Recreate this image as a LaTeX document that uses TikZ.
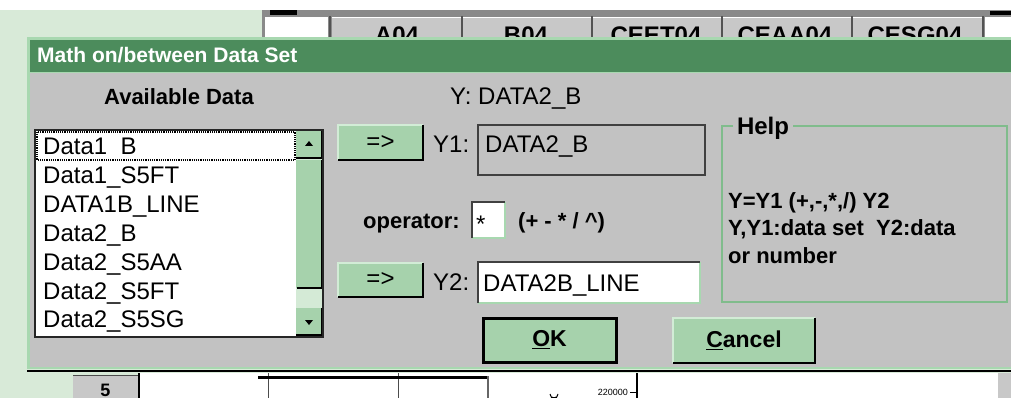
\documentclass[tikz,border=0pt]{standalone}
\usepackage{fontspec}
\setmainfont{Liberation Sans}
\definecolor{titlegreen}{HTML}{4C8C5C}
\definecolor{btngreen}{HTML}{A6D2AC}
\definecolor{btnlight}{HTML}{D2ECD6}
\definecolor{panel}{HTML}{C2C2C2}
\definecolor{pale}{HTML}{D8EAD8}
\definecolor{frame}{HTML}{A8D8B0}
\definecolor{groupline}{HTML}{80BC8C}
\definecolor{hdrgray}{HTML}{C8C8C8}
\definecolor{hdrdark}{HTML}{8A8A8A}
\definecolor{trackgreen}{HTML}{D4EAD6}
\definecolor{boxedge}{HTML}{404040}
\begin{document}
\begin{tikzpicture}[x=1pt,y=-1pt,
  lbl/.style={inner sep=0pt, anchor=base west, font=\fontsize{24}{24}\selectfont},
  blbl/.style={inner sep=0pt, anchor=base west, font=\fontsize{22}{22}\selectfont\bfseries},
  hdr/.style={inner sep=0pt, anchor=base, font=\fontsize{24}{24}\selectfont\bfseries},
  button/.style={fill=btngreen, inner sep=0pt, font=\fontsize{24}{24}\selectfont},
  shade/.style={black, line width=2pt},
  glint/.style={btnlight, line width=1.5pt},
  sunken/.style={boxedge, line width=2pt},
  raised/.style={frame, line width=2pt}]
\useasboundingbox (0,0) rectangle (1011,398);

% ---- surroundings: page, spreadsheet header row ----
\fill[white] (0,0) rectangle (1011,398);
\fill[pale] (0,10) rectangle (1011,398);
\fill[hdrdark] (262,10) rectangle (1011,37);
\fill[black] (270,10) rectangle (297,15);
\fill[black] (990,11) rectangle (1011,15);
\fill[hdrgray] (332,17) rectangle (982,37);
\draw[white, line width=1.5pt] (332,17.5) -- (982,17.5);
\fill[white] (265,17) rectangle (328,37);
\fill[white] (985,17) rectangle (1011,37);
\foreach \cx in {330,462,592,722,852,983}
  \draw[hdrdark!60!black, line width=2pt] (\cx,16) -- (\cx,37);
\node[hdr] (colA) at (397,44) {A04};
\node[hdr] (colB) at (526,44) {B04};
\node[hdr] (colC) at (656,44) {CEET04};
\node[hdr] (colD) at (785,44) {CEAA04};
\node[hdr] (colE) at (915,44) {CESG04};

% ---- spreadsheet rows below the dialog ----
\fill[white] (138,373) rectangle (998,398);
\fill[hdrgray] (998,373) rectangle (1011,398);
\fill[hdrgray] (73,375) rectangle (138,398);
\draw[black!70, line width=1pt] (73,375) -- (138,375);
\node[inner sep=0pt, anchor=base, font=\fontsize{18}{18}\selectfont\bfseries] (row5) at (105.5,396) {5};
\draw[black, line width=2pt] (139,373) -- (139,398);
\draw[black!70, line width=1pt] (268,373) -- (268,398);
\draw[black!70, line width=1pt] (398,373) -- (398,398);
\draw[black, line width=3pt] (258,377) -- (488,377);
\draw[black!60, line width=2pt] (488,376) -- (488,398);
\draw[black, line width=1.5pt] (637,373) -- (637,398);
\draw[black, line width=1pt] (630,392) -- (637,392);
\node[inner sep=0pt, anchor=east, font=\fontsize{9}{9}\selectfont] (ticklab) at (628,392) {220000};
\draw[black, line width=1pt] (550,394) arc[start angle=180, end angle=0, radius=4];
\draw[black, line width=1pt] (551,397) -- (557,397);

% ---- dialog window ----
\fill[frame] (27,37) rectangle (1011,369);
\fill[titlegreen] (30,40) rectangle (1011,72);
\fill[panel] (30,73) rectangle (1011,367);
\draw[black, line width=2pt] (27,371) -- (1011,371);
\node[inner sep=0pt, anchor=base west, text=white,
      font=\fontsize{21}{21}\selectfont\bfseries] (title) at (37,63) {Math on/between Data Set};

% ---- list of data sets ----
\node[inner sep=0pt, anchor=base, font=\fontsize{22}{22}\selectfont\bfseries] (avail) at (179,105) {Available Data};
\fill[white] (36,131) rectangle (296,336);
\foreach \t [count=\i from 0] in {Data1\_B, Data1\_S5FT, DATA1B\_LINE, Data2\_B, Data2\_S5AA, Data2\_S5FT, Data2\_S5SG}
  \node[lbl] (item\i) at (43,155+28.8*\i) {\t};
\draw[white, line width=3pt] (37,159) -- (295,159);
\draw[black, line width=1.2pt, densely dotted] (37,132) rectangle (295,160);
% scroll bar
\fill[trackgreen] (296,131) rectangle (322,335);
\fill[btngreen] (296,131) rectangle (322,158);
\fill[btngreen] (296,160) rectangle (322,288);
\fill[btngreen] (296,308) rectangle (322,335);
\draw[shade] (296,158) -- (322,158) -- (322,131);
\draw[shade] (297,288) -- (322,288) -- (322,160);
\draw[shade] (296,335) -- (322,335) -- (322,308);
\fill[black] (305,146) -- (313,146) -- (309,141) -- cycle;
\fill[black] (305,320) -- (313,320) -- (309,325) -- cycle;
\draw[black!85, line width=2.5pt] (35,130) rectangle (323,337);

% ---- result name ----
\node[lbl] (ylab) at (450,105) {Y: DATA2\_B};

% ---- first operand ----
\node[button, minimum width=85pt, minimum height=35pt] (pick1) at (380.5,142.5) {=>};
\draw[glint] (pick1.south west) -- (pick1.north west) -- (pick1.north east);
\draw[shade] (pick1.south west) -- (pick1.south east) -- (pick1.north east);
\node[lbl] (y1lab) at (433,153) {Y1:};
\node[draw=boxedge, line width=1.5pt, fill=panel, minimum width=227pt, minimum height=50pt] (y1box) at (591.5,150) {};
\node[lbl] (y1val) at (485,153) {DATA2\_B};

% ---- operator ----
\node[blbl] (oplab) at (363,228) {operator:};
\node[fill=white, minimum width=33pt, minimum height=36pt, inner sep=0pt] (opbox) at (488.5,220) {};
\draw[raised] (opbox.south west) -- (opbox.south east) -- (opbox.north east);
\draw[sunken] (opbox.south west) -- (opbox.north west) -- (opbox.north east);
\node[lbl] (opval) at (476,232) {*};
\node[blbl] (ophint) at (518,228) {(+ - * / \^{})};

% ---- second operand ----
\node[button, minimum width=85pt, minimum height=34pt] (pick2) at (380.5,280) {=>};
\draw[glint] (pick2.south west) -- (pick2.north west) -- (pick2.north east);
\draw[shade] (pick2.south west) -- (pick2.south east) -- (pick2.north east);
\node[lbl] (y2lab) at (433,290) {Y2:};
\node[fill=white, minimum width=222pt, minimum height=41pt, inner sep=0pt] (y2box) at (589,282.5) {};
\draw[raised] (y2box.south west) -- (y2box.south east) -- (y2box.north east);
\draw[sunken] (y2box.south west) -- (y2box.north west) -- (y2box.north east);
\node[lbl] (y2val) at (483,291) {DATA2B\_LINE};

% ---- help group ----
\draw[groupline, line width=1.5pt] (733,126) -- (722,126) -- (722,302) -- (1007,302) -- (1007,126) -- (793,126);
\node[inner sep=0pt, anchor=base, font=\fontsize{24}{24}\selectfont\bfseries] (helplab) at (763,135) {Help};
\node[blbl] (help1) at (728,208) {Y=Y1 (+,-,*,/) Y2};
\node[blbl] (help2) at (728,235) {Y,Y1:data set\ \ Y2:data};
\node[blbl] (help3) at (728,263) {or number};

% ---- dialog buttons ----
\node[button, draw=black, line width=3pt, minimum width=133pt, minimum height=44pt,
      font=\fontsize{23}{23}\selectfont\bfseries] (okbtn) at (549.5,340) {\underline{O}K};
\node[button, minimum width=142pt, minimum height=45pt,
      font=\fontsize{23}{23}\selectfont\bfseries] (cancelbtn) at (744,340.5) {\underline{C}ancel};
\draw[glint] (cancelbtn.south west) -- (cancelbtn.north west) -- (cancelbtn.north east);
\draw[shade] (cancelbtn.south west) -- (cancelbtn.south east) -- (cancelbtn.north east);
\end{tikzpicture}
\end{document}
